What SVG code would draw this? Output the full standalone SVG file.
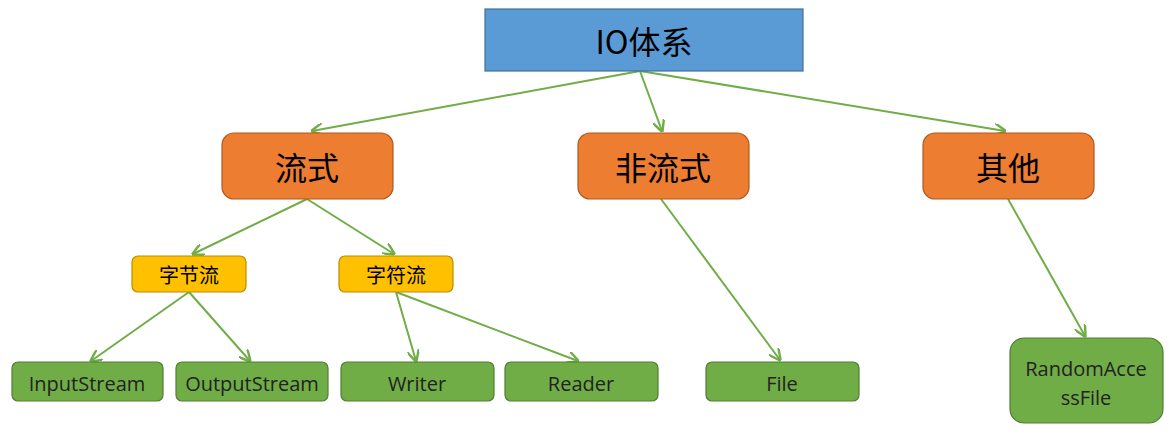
<svg xmlns="http://www.w3.org/2000/svg" width="1173" height="434" viewBox="0 0 1173 434">
<style>
text{font-family:"Noto Sans CJK SC","Liberation Sans",sans-serif;text-anchor:middle;dominant-baseline:central;fill:#000}
.o{fill:#ED7D31;stroke:#AE5A21;stroke-width:1.2}
.y{fill:#FFC000;stroke:#BC8C00;stroke-width:1.2}
.g{fill:#70AD47;stroke:#507E32;stroke-width:1.2}
.c line{stroke:#70AD47;stroke-width:2;marker-end:url(#a)}
.l{font-size:32px}.m{font-size:20px}.s{font-size:20px;font-family:"Open Sans","Liberation Sans",sans-serif;fill:#222}
</style>
<defs><marker id="a" viewBox="0 0 10 10" refX="9" refY="5" markerWidth="6" markerHeight="6" orient="auto"><path d="M0,0 L10,5 L0,10" fill="none" stroke="#70AD47" stroke-width="2"/></marker></defs>
<g class="c">
<line x1="640" y1="71" x2="312" y2="131"/>
<line x1="640" y1="71" x2="662" y2="131"/>
<line x1="640" y1="71" x2="1005" y2="131"/>
<line x1="307" y1="199" x2="193" y2="254"/>
<line x1="307" y1="199" x2="394" y2="254"/>
<line x1="189" y1="292" x2="91" y2="361"/>
<line x1="189" y1="292" x2="250" y2="361"/>
<line x1="396" y1="292" x2="416" y2="361"/>
<line x1="396" y1="292" x2="578" y2="361"/>
<line x1="661" y1="199" x2="780" y2="360"/>
<line x1="1008" y1="199" x2="1085" y2="336"/>
</g>
<g id="io"><rect x="485" y="9" width="318" height="62" fill="#5B9BD5" stroke="#41719C" stroke-width="1.2"/><text x="644" y="40" class="l">IO体系</text></g>
<g id="liushi"><rect x="222" y="133" width="171" height="66" rx="12" class="o"/><text x="307" y="166" class="l">流式</text></g>
<g id="feiliushi"><rect x="578" y="133" width="171" height="66" rx="12" class="o"/><text x="663" y="166" class="l">非流式</text></g>
<g id="qita"><rect x="923" y="133" width="171" height="66" rx="12" class="o"/><text x="1008" y="166" class="l">其他</text></g>
<g id="zijie"><rect x="132" y="256" width="114" height="36" rx="6" class="y"/><text x="189" y="274" class="m">字节流</text></g>
<g id="zifu"><rect x="339" y="256" width="114" height="36" rx="6" class="y"/><text x="396" y="274" class="m">字符流</text></g>
<g id="input"><rect x="12" y="362" width="151" height="39" rx="6" class="g"/><text x="87" y="383" class="s">InputStream</text></g>
<g id="output"><rect x="176" y="362" width="152" height="39" rx="6" class="g"/><text x="252" y="383" class="s">OutputStream</text></g>
<g id="writer"><rect x="341" y="362" width="153" height="39" rx="6" class="g"/><text x="417" y="383" class="s">Writer</text></g>
<g id="reader"><rect x="505" y="362" width="153" height="39" rx="6" class="g"/><text x="581" y="383" class="s">Reader</text></g>
<g id="file"><rect x="706" y="362" width="153" height="39" rx="6" class="g"/><text x="782" y="383" class="s">File</text></g>
<g id="raf"><rect x="1010" y="338" width="153" height="85" rx="14" class="g"/><text x="1086" y="368" class="s">RandomAcce</text><text x="1086" y="397" class="s">ssFile</text></g>
</svg>
